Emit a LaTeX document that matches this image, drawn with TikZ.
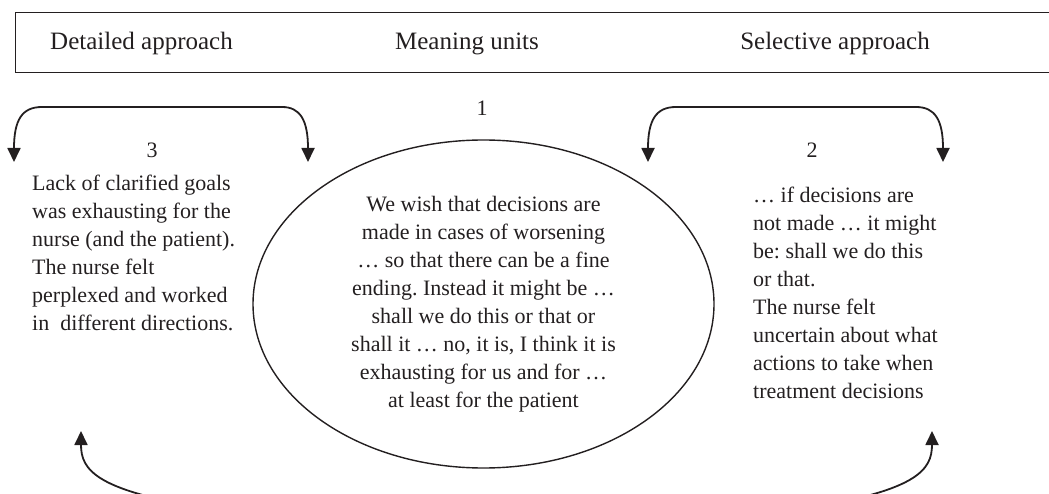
\documentclass[tikz,border=0pt]{standalone}
\usepackage{fontspec}
\setmainfont{Liberation Serif}
\usepackage{tikz}
\usetikzlibrary{arrows.meta,calc,shapes.geometric}
\frenchspacing

\definecolor{ink}{RGB}{35,31,32}

\begin{document}
\begin{tikzpicture}[x=1pt,y=-1pt,ink,
		head/.style={anchor=base,inner sep=0pt,font=\fontsize{25}{30}\selectfont},
		num/.style={anchor=base,inner sep=0pt,font=\fontsize{22}{28}\selectfont},
		quote/.style={anchor=north west,inner sep=0pt,align=left,font=\fontsize{22}{28}\selectfont},
		unit/.style={ellipse,draw,line width=1.4pt,inner sep=0pt,align=center,
			minimum width=461pt,minimum height=328pt,font=\fontsize{22}{28}\selectfont},
		turn/.style={line width=1.8pt,{Triangle[width=13pt,length=14pt]}-{Triangle[width=13pt,length=14pt]}}]
			\useasboundingbox (0,0) rectangle (1049,494);
			\clip (0,0) rectangle (1049,494);
			
			% Header band (runs off the right edge)
			\draw[line width=1.4pt] (15.5,12.5) rectangle (1070,72.5);
			\node[head] (detail) at (141.5,50) {Detailed approach};
			\node[head] (meaning) at (467,50) {Meaning units};
			\node[head] (select) at (835,50) {Selective approach};
			
			% Step numbers
			\node[num] (n1) at (482,116) {1};
			\node[num] (n3) at (152,158) {3};
			\node[num] (n2) at (812,158) {2};
			
			% Meaning unit in the middle
			\node[unit] (mu) at (483.5,304) {We wish that decisions are\\
				made in cases of worsening\\
				\dots\ so that there can be a fine\\
				ending. Instead it might be \dots\\
				shall we do this or that or\\
				shall it \dots\ no, it is, I think it is\\
				exhausting for us and for \dots\\
				at least for the patient};
			
			% Condensed texts at the sides
			\node[quote] (left) at (32,175) {Lack of clarified goals\\
				was exhausting for the\\
				nurse (and the patient).\\
				The nurse felt\\
				perplexed and worked\\
				in~ different directions.};
			\node[quote] (right) at (753,187) {\dots\ if decisions are\\
				not made \dots\ it might\\
				be: shall we do this\\
				or that.\\
				The nurse felt\\
				uncertain about what\\
				actions to take when\\
				treatment decisions};
			
			% Arrow ends
			\coordinate (a3) at (14,162);
			\coordinate (b3) at (308,162);
			\coordinate (a2) at (648,162);
			\coordinate (b2) at (943,162);
			\coordinate (c3) at (81,431);
			\coordinate (c2) at (932,431);
			
			% Back and forth between the approaches
			\draw[turn] (a3) .. controls (14,120) and (22,107) .. (42,107) -- (282,107)
				.. controls (300,107) and (308,120) .. (b3);
			\draw[turn] (a2) .. controls (648,120) and (656,107) .. (676,107) -- (916,107)
				.. controls (935,107) and (943,120) .. (b2);
			\draw[turn] (c3) .. controls (81,470) and (95,492) .. (220,510) -- (793,510)
				.. controls (918,492) and (932,470) .. (c2);
			
		\end{tikzpicture}
\end{document}
